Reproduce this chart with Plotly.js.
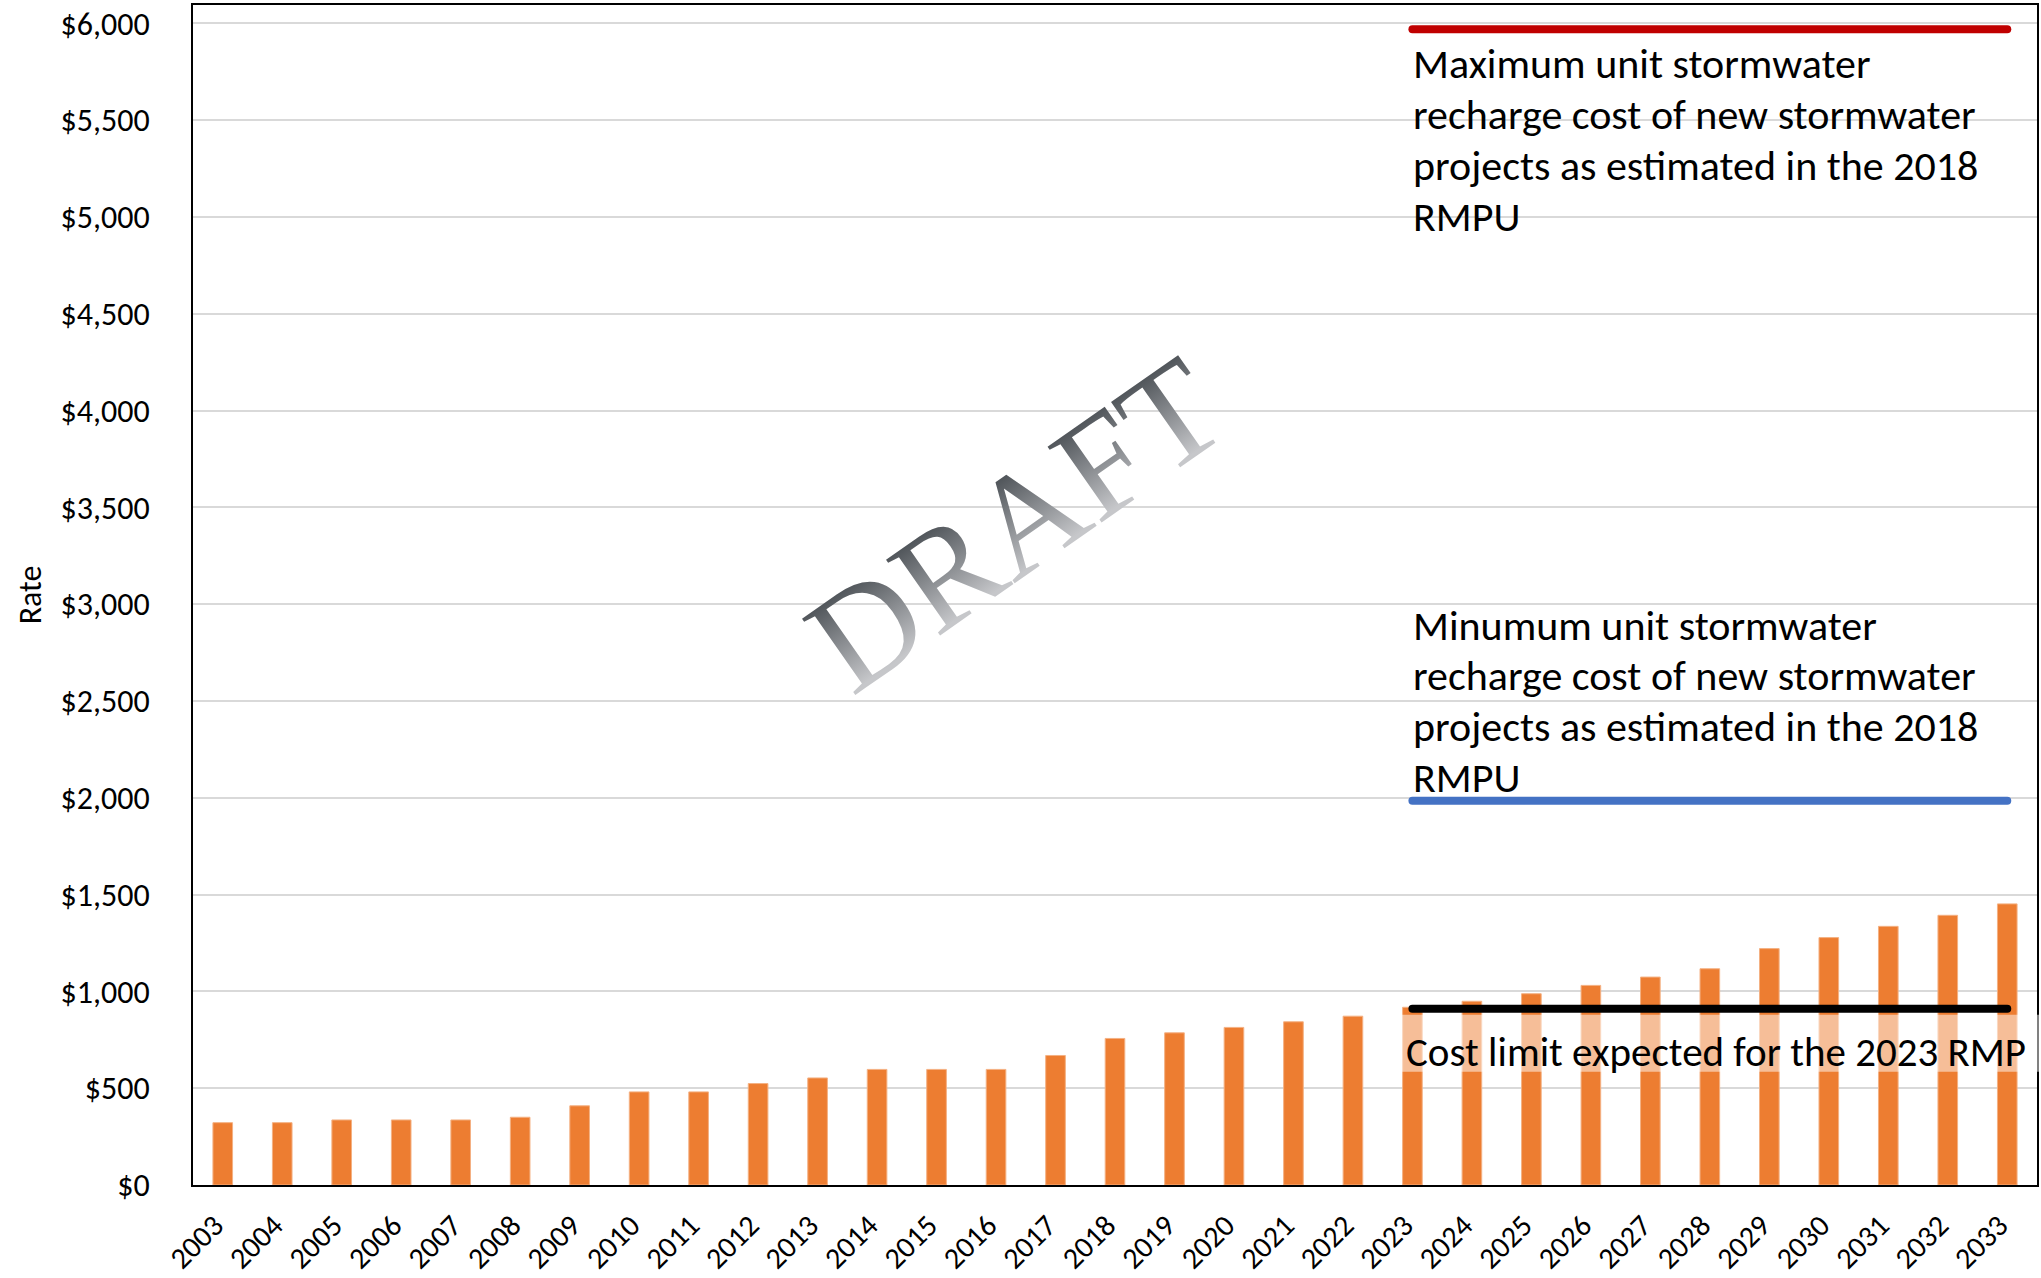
<!DOCTYPE html>
<html>
<head>
<meta charset="utf-8">
<script src="https://cdn.plot.ly/plotly-3.0.1.min.js"></script>
<style>
  html, body { margin: 0; padding: 0; background: #ffffff; }
  #chart { width: 2041px; height: 1278px; }
</style>
</head>
<body>
<div id="chart"></div>
<script>
// ---- Data ----
const years = ['2003','2004','2005','2006','2007','2008','2009','2010','2011','2012',
               '2013','2014','2015','2016','2017','2018','2019','2020','2021','2022',
               '2023','2024','2025','2026','2027','2028','2029','2030','2031','2032','2033'];
const rates = [322, 322, 336, 336, 336, 350, 409, 481, 481, 524,
               553, 597, 597, 597, 669, 757, 786, 814, 843, 872,
               918, 949, 988, 1031, 1074, 1117, 1221, 1278, 1336, 1393, 1452];

const lineYears = ['2023', '2033'];
const maxCost   = [5970, 5970];   // Maximum unit stormwater recharge cost (2018 RMPU)
const minCost   = [1985, 1985];   // Minimum unit stormwater recharge cost (2018 RMPU)
const costLimit = [911, 911];     // Cost limit expected for the 2023 RMP

const yTickVals = [0, 500, 1000, 1500, 2000, 2500, 3000, 3500, 4000, 4500, 5000, 5500, 6000];
const yTickText = ['$0', '$500', '$1,000', '$1,500', '$2,000', '$2,500', '$3,000',
                   '$3,500', '$4,000', '$4,500', '$5,000', '$5,500', '$6,000'];

const labelMaxLines = ['Maximum unit stormwater', 'recharge cost of new stormwater',
                       'projects as estimated in the 2018', 'RMPU'];
const labelMinLines = ['Minumum unit stormwater', 'recharge cost of new stormwater',
                       'projects as estimated in the 2018', 'RMPU'];
const labelLimit = 'Cost limit expected for the 2023 RMP';
const watermark = 'DRAFT';

// ---- Chart ----
const FONT = 'Calibri, Carlito, Lato, sans-serif';
const LABEL_SIZE = 42;

const traces = [
  {
    type: 'bar', x: years, y: rates,
    marker: { color: '#ED7D31', line: { color: '#F4B183', width: 1 } },
    hoverinfo: 'x+y'
  },
  { type: 'scatter', mode: 'lines', x: lineYears, y: maxCost,
    line: { color: '#C00000', width: 8 } },
  { type: 'scatter', mode: 'lines', x: lineYears, y: minCost,
    line: { color: '#4472C4', width: 8 } },
  { type: 'scatter', mode: 'lines', x: lineYears, y: costLimit,
    line: { color: '#000000', width: 8 } }
];

// per-pixel helpers for placing text lines (plot area: y 0 at 1184.6px, 500 per 96.77px)
const PX_PER_UNIT = 96.77 / 500;
const Y0_PX = 1184.6;
function yAtPx(px) { return (Y0_PX - px) / PX_PER_UNIT; }
const LINE_STEP_PX = 50.8;

const annotations = [
  {
    text: watermark, xref: 'paper', yref: 'paper', x: 0.446, y: 0.5605,
    xanchor: 'center', yanchor: 'middle', textangle: -35, showarrow: false,
    font: { family: 'Liberation Serif, Times New Roman, serif', size: 142, color: '#808388' }
  }
];
labelMaxLines.forEach(function (t, i) {
  annotations.push({
    text: t, xref: 'paper', yref: 'y', x: 0.6605, y: yAtPx(63.8 + i * LINE_STEP_PX),
    xanchor: 'left', yanchor: 'middle', align: 'left', showarrow: false,
    font: { family: FONT, size: LABEL_SIZE, color: '#000000' }
  });
});
labelMinLines.forEach(function (t, i) {
  annotations.push({
    text: t, xref: 'paper', yref: 'y', x: 0.6605, y: yAtPx(624.8 + i * LINE_STEP_PX),
    xanchor: 'left', yanchor: 'middle', align: 'left', showarrow: false,
    font: { family: FONT, size: LABEL_SIZE, color: '#000000' }
  });
});
annotations.push({
  text: labelLimit, xref: 'paper', yref: 'y', x: 0.6568, y: yAtPx(1051.8),
  xanchor: 'left', yanchor: 'middle', align: 'left', showarrow: false,
  font: { family: FONT, size: 41, color: '#000000' }
});

const layout = {
  width: 2041, height: 1278,
  margin: { l: 193, r: 4, t: 5, b: 93, pad: 0 },
  paper_bgcolor: '#ffffff', plot_bgcolor: '#ffffff',
  showlegend: false,
  bargap: 0.67,
  font: { family: FONT, color: '#000000', size: 32 },
  xaxis: {
    type: 'category',
    tickangle: -45,
    tickfont: { family: FONT, size: 30, color: '#000000' },
    showline: true, linecolor: '#000000', linewidth: 2, mirror: true,
    ticks: '', showgrid: false, zeroline: false,
    ticklabelstandoff: 9,
    ticklabelshift: -8,
    automargin: false
  },
  yaxis: {
    range: [0, 6095],
    tickmode: 'array', tickvals: yTickVals, ticktext: yTickText,
    tickfont: { family: FONT, size: 32, color: '#000000' },
    showline: true, linecolor: '#000000', linewidth: 2, mirror: true,
    showgrid: true, gridcolor: '#D9D9D9', gridwidth: 2,
    zeroline: false, ticks: '',
    ticklabelstandoff: 35,
    automargin: false,
    title: { text: 'Rate', font: { family: FONT, size: 32, color: '#000000' }, standoff: 9 }
  },
  shapes: [
    { // semi-transparent white backing behind the cost-limit label
      type: 'rect', xref: 'paper', yref: 'y', x0: 0.645, x1: 1.003,
      y0: yAtPx(1071.3), y1: yAtPx(1014.3),
      fillcolor: 'rgba(255,255,255,0.5)', line: { width: 0 }, layer: 'above'
    }
  ],
  annotations: annotations
};

Plotly.newPlot('chart', traces, layout, { displayModeBar: false, staticPlot: true }).then(function (gd) {
  // round caps for the reference lines
  gd.querySelectorAll('.scatterlayer .js-line').forEach(function (p) {
    p.style.strokeLinecap = 'round';
  });
  // gradient fill for the DRAFT watermark
  const svg = gd.querySelector('svg.main-svg');
  const NS = 'http://www.w3.org/2000/svg';
  let defs = svg.querySelector('defs');
  if (!defs) { defs = document.createElementNS(NS, 'defs'); svg.insertBefore(defs, svg.firstChild); }
  const grad = document.createElementNS(NS, 'linearGradient');
  grad.setAttribute('id', 'draftGrad');
  grad.setAttribute('x1', '0'); grad.setAttribute('y1', '0');
  grad.setAttribute('x2', '0'); grad.setAttribute('y2', '1');
  [['0.2', '#4E5358'], ['0.78', '#C6C7CA']].forEach(function (s) {
    const st = document.createElementNS(NS, 'stop');
    st.setAttribute('offset', s[0]); st.setAttribute('stop-color', s[1]);
    grad.appendChild(st);
  });
  defs.appendChild(grad);
  gd.querySelectorAll('.annotation-text').forEach(function (t) {
    if (t.textContent === watermark) { t.style.fill = 'url(#draftGrad)'; }
  });
});
</script>
</body>
</html>
